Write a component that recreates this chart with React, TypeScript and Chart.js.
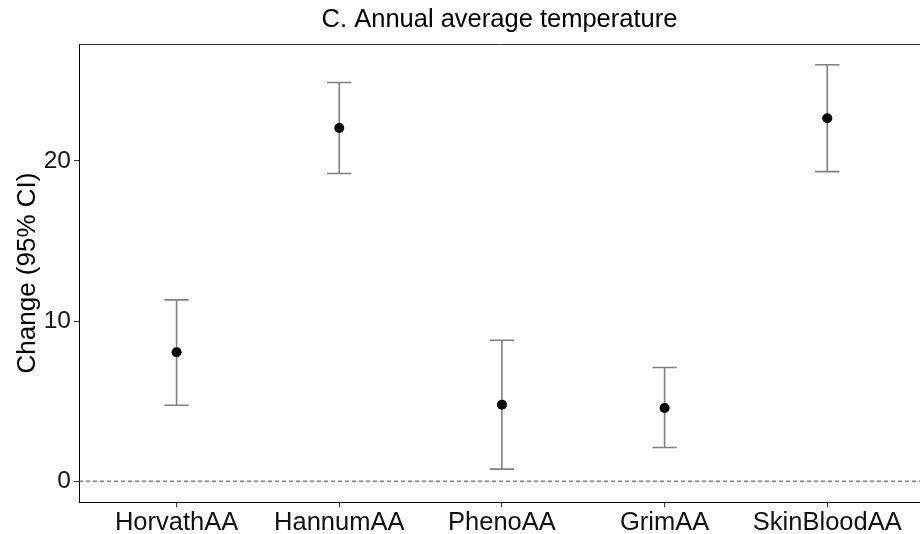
import React, { useEffect, useRef } from 'react';
import { Chart, registerables } from 'chart.js';

Chart.register(...registerables);

const chartTitle = 'C. Annual average temperature';
const yAxisTitle = 'Change (95% CI)';
const categories = ['HorvathAA', 'HannumAA', 'PhenoAA', 'GrimAA', 'SkinBloodAA'];
const estimates = [8.05, 22.06, 4.78, 4.57, 22.66];
const lowerCI = [4.74, 19.21, 0.75, 2.1, 19.33];
const upperCI = [11.32, 24.9, 8.8, 7.1, 26.0];
const yTicks = [0, 10, 20];
const yMin = -1.3;
const yMax = 27.3;
const xMin = 0.4;
const xMax = 5.57;
const capHalfWidth = 0.075;
const referenceValue = 0;

const FONT = '"Liberation Sans", Arial, sans-serif';

export default function App() {
  const canvasRef = useRef<HTMLCanvasElement | null>(null);

  useEffect(() => {
    if (!canvasRef.current) return;

    const pointData = categories.map((_, i) => ({ x: i + 1, y: estimates[i] }));

    const errData: { x: number; y: number | null }[] = [];
    categories.forEach((_, i) => {
      const x = i + 1;
      errData.push(
        { x, y: lowerCI[i] },
        { x, y: upperCI[i] },
        { x, y: null },
        { x: x - capHalfWidth, y: upperCI[i] },
        { x: x + capHalfWidth, y: upperCI[i] },
        { x, y: null },
        { x: x - capHalfWidth, y: lowerCI[i] },
        { x: x + capHalfWidth, y: lowerCI[i] },
        { x, y: null }
      );
    });

    const refData = [
      { x: xMin, y: referenceValue },
      { x: xMax, y: referenceValue },
    ];

    const decorPlugin = {
      id: 'decor',
      afterDatasetsDraw(chart: any) {
        const { ctx, chartArea } = chart;
        ctx.save();
        ctx.strokeStyle = '#333333';
        ctx.lineWidth = 1;
        ctx.beginPath();
        ctx.moveTo(chartArea.left, chartArea.top + 0.5);
        ctx.lineTo(chartArea.right, chartArea.top + 0.5);
        ctx.stroke();
        ctx.restore();
      },
      afterDraw(chart: any) {
        const { ctx, chartArea } = chart;
        ctx.save();
        ctx.font = `25.5px ${FONT}`;
        ctx.fillStyle = '#000000';
        ctx.textAlign = 'center';
        ctx.textBaseline = 'middle';
        ctx.fillText(chartTitle, (chartArea.left + chartArea.right) / 2, 20);
        ctx.restore();
      },
    };

    const chart = new Chart(canvasRef.current, {
      type: 'scatter',
      data: {
        datasets: [
          {
            label: 'estimate',
            data: pointData,
            pointRadius: 5,
            pointHoverRadius: 5,
            pointBackgroundColor: '#000000',
            pointBorderWidth: 0,
            showLine: false,
            order: 0,
          },
          {
            label: 'ci',
            data: errData as any,
            showLine: true,
            spanGaps: false,
            pointRadius: 0,
            borderColor: '#808080',
            borderWidth: 1.6,
            borderCapStyle: 'butt',
            order: 1,
          },
          {
            label: 'ref',
            data: refData,
            showLine: true,
            pointRadius: 0,
            borderColor: '#444444',
            borderWidth: 1,
            borderDash: [4, 3],
            order: 2,
          },
        ],
      },
      options: {
        animation: false,
        responsive: false,
        maintainAspectRatio: false,
        layout: { autoPadding: false, padding: { top: 44, left: 0, right: 0, bottom: 0 } },
        plugins: {
          legend: { display: false },
          tooltip: { enabled: false },
          title: { display: false },
        },
        scales: {
          x: {
            type: 'linear',
            min: xMin,
            max: xMax,
            afterBuildTicks: (s: any) => {
              s.ticks = categories.map((_, i) => ({ value: i + 1 }));
            },
            afterFit: (s: any) => {
              s.height = 32;
              s.paddingLeft = 0;
              s.paddingRight = 0;
            },
            ticks: {
              autoSkip: false,
              maxRotation: 0,
              padding: 1,
              color: '#111111',
              font: { family: FONT, size: 25.5 },
              callback: (v: any) => categories[Math.round(Number(v)) - 1] ?? '',
            },
            grid: {
              drawOnChartArea: false,
              drawTicks: true,
              tickLength: 5,
              color: '#333333',
            },
            border: { display: true, color: '#000000', width: 1 },
          },
          y: {
            type: 'linear',
            min: yMin,
            max: yMax,
            afterBuildTicks: (s: any) => {
              s.ticks = yTicks.map((v) => ({ value: v }));
            },
            afterFit: (s: any) => {
              s.width = 79;
              s.paddingTop = 0;
              s.paddingBottom = 0;
            },
            ticks: {
              padding: 3,
              color: '#111111',
              font: { family: FONT, size: 24.5 },
            },
            grid: {
              drawOnChartArea: false,
              drawTicks: true,
              tickLength: 5,
              color: '#333333',
            },
            border: { display: true, color: '#000000', width: 1 },
            title: {
              display: true,
              text: yAxisTitle,
              color: '#000000',
              font: { family: FONT, size: 26 },
              padding: { top: 12, bottom: 0 },
            },
          },
        },
      },
      plugins: [decorPlugin],
    });

    return () => chart.destroy();
  }, []);

  return (
    <div style={{ position: 'fixed', left: 0, top: 0, width: 920, height: 534, background: '#ffffff' }}>
      <canvas ref={canvasRef} width={920} height={534} />
    </div>
  );
}
